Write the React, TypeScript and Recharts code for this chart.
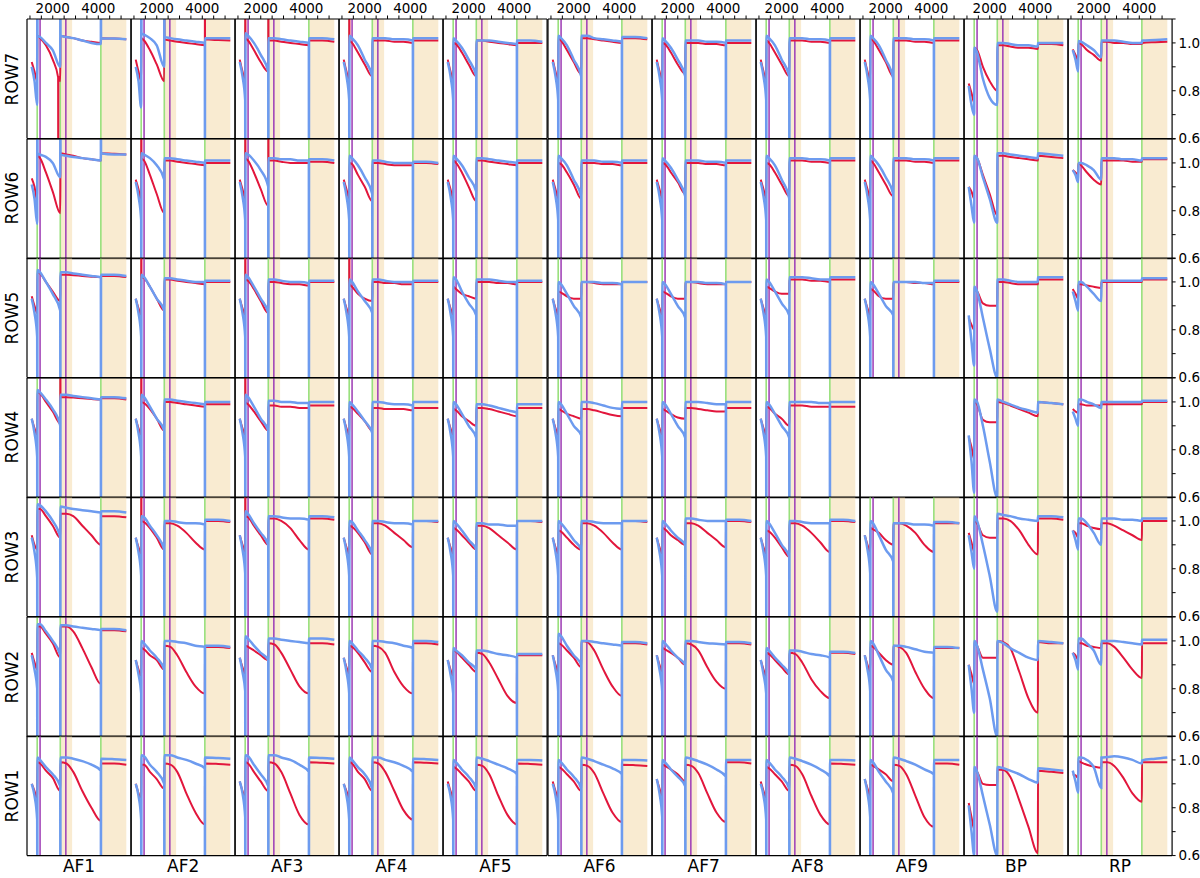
import React from 'react';
import { ComposedChart, Line, XAxis, YAxis, ReferenceArea, ReferenceLine } from 'recharts';

// ---------- categories / labels ----------
const COLUMNS = ['AF1', 'AF2', 'AF3', 'AF4', 'AF5', 'AF6', 'AF7', 'AF8', 'AF9', 'BP', 'RP'];
const ROWS = ['ROW7', 'ROW6', 'ROW5', 'ROW4', 'ROW3', 'ROW2', 'ROW1']; // top to bottom

// ---------- x positions (OBMT revolutions) of the sampled points in each segment ----------
const X_SEG_A = [1078, 1200, 1317];
const X_SEG_B = [1330, 1444, 1700, 2000, 2330];
const X_SEG_C = [2340, 2600, 2900, 3300, 3700, 4112];
const X_SEG_D = [4120, 4700, 5230];
const GAP_X = [1323, 2335, 4116];
const GAP_LOW = 0.3;
const GAP_HIGH = 1.4;

// ---------- events ----------
const DECONTAMINATIONS = [1317, 2331, 4112]; // green lines
const REFOCUSES = [1444, 2575]; // purple lines
const SHADED_FROM = [2331, 4112];
const SHADED_TO = [2850, 5230];

// ---------- axes ----------
const X_DOMAIN = [870, 5440];
const Y_DOMAIN = [0.6, 1.1];
const X_TICKS = [1000, 1500, 2000, 2500, 3000, 3500, 4000, 4500, 5000];
const X_TICK_LABELS = [2000, 4000];
const Y_TICKS = [0.6, 0.7, 0.8, 0.9, 1.0, 1.1];
const Y_TICK_LABELS = [0.6, 0.8, 1.0];

// ---------- series values: each row = A(3) | B(5) | C(6) | D(3) ----------
const ROW7_RED = [
  [0.92, 0.88, 0.84, 1.03, 1.02, 0.99, 0.93, 0.84, 1.03, 1.025, 1.02, 1.01, 1.005, 1.0, 1.02, 1.018, 1.015],
  [0.93, 0.88, 0.84, 1.02, 1.01, 0.97, 0.91, 0.84, 1.015, 1.01, 1.005, 1.0, 0.995, 0.99, 1.015, 1.012, 1.01],
  [0.93, 0.88, 0.84, 1.02, 1.01, 0.97, 0.92, 0.88, 1.01, 1.01, 1.005, 1.0, 0.995, 0.99, 1.01, 1.01, 1.005],
  [0.93, 0.88, 0.84, 1.01, 1.0, 0.96, 0.91, 0.86, 1.01, 1.01, 1.01, 1.005, 1.005, 1.0, 1.01, 1.01, 1.01],
  [0.93, 0.88, 0.84, 1.0, 0.995, 0.96, 0.91, 0.86, 1.01, 1.01, 1.005, 1.0, 0.995, 0.99, 1.0, 1.0, 1.0],
  [0.93, 0.88, 0.84, 1.02, 1.01, 0.97, 0.92, 0.87, 1.02, 1.02, 1.015, 1.01, 1.005, 1.0, 1.02, 1.02, 1.015],
  [0.93, 0.88, 0.84, 1.0, 0.995, 0.96, 0.91, 0.87, 1.0, 1.0, 1.0, 0.995, 0.995, 0.99, 1.0, 1.0, 1.0],
  [0.93, 0.88, 0.84, 1.01, 1.0, 0.96, 0.91, 0.86, 1.01, 1.01, 1.01, 1.005, 1.005, 1.0, 1.01, 1.01, 1.01],
  [0.93, 0.88, 0.84, 1.02, 1.01, 0.97, 0.92, 0.86, 1.01, 1.01, 1.01, 1.005, 1.005, 1.0, 1.01, 1.01, 1.01],
  [0.83, 0.79, 0.75, 0.98, 0.97, 0.9, 0.84, 0.8, 0.99, 0.99, 0.985, 0.98, 0.98, 0.975, 0.995, 0.995, 0.99],
  [0.973, 0.95, 0.926, 1.0, 0.995, 0.97, 0.95, 0.925, 1.005, 1.005, 1.0, 1.0, 0.995, 0.995, 1.0, 1.003, 1.005],
];
const ROW7_BLUE = [
  [0.9, 0.84, 0.74, 1.03, 1.025, 1.0, 0.97, 0.9, 1.03, 1.025, 1.02, 1.01, 1.0, 0.995, 1.02, 1.018, 1.015],
  [0.9, 0.84, 0.73, 1.04, 1.035, 1.02, 0.99, 0.9, 1.025, 1.02, 1.015, 1.01, 1.005, 1.0, 1.02, 1.02, 1.02],
  [0.92, 0.86, 0.76, 1.04, 1.03, 1.0, 0.95, 0.88, 1.02, 1.02, 1.015, 1.01, 1.005, 1.0, 1.02, 1.02, 1.015],
  [0.92, 0.86, 0.76, 1.03, 1.02, 0.99, 0.93, 0.86, 1.02, 1.02, 1.02, 1.015, 1.015, 1.01, 1.02, 1.02, 1.02],
  [0.92, 0.86, 0.76, 1.02, 1.01, 0.98, 0.93, 0.86, 1.01, 1.01, 1.01, 1.005, 1.0, 0.995, 1.01, 1.01, 1.005],
  [0.92, 0.86, 0.76, 1.03, 1.02, 0.99, 0.93, 0.86, 1.03, 1.03, 1.02, 1.015, 1.01, 1.005, 1.025, 1.025, 1.02],
  [0.92, 0.86, 0.76, 1.02, 1.01, 0.98, 0.93, 0.86, 1.01, 1.01, 1.01, 1.005, 1.005, 1.0, 1.01, 1.01, 1.01],
  [0.92, 0.86, 0.76, 1.03, 1.02, 0.99, 0.93, 0.86, 1.02, 1.02, 1.02, 1.015, 1.015, 1.01, 1.02, 1.02, 1.02],
  [0.92, 0.86, 0.76, 1.03, 1.02, 0.99, 0.93, 0.85, 1.02, 1.02, 1.02, 1.015, 1.015, 1.01, 1.02, 1.02, 1.02],
  [0.82, 0.74, 0.7, 0.98, 0.96, 0.85, 0.77, 0.74, 1.0, 1.0, 0.995, 0.99, 0.99, 0.985, 1.0, 1.0, 1.0],
  [0.97, 0.93, 0.88, 1.008, 1.005, 0.99, 0.97, 0.94, 1.01, 1.01, 1.01, 1.005, 1.0, 1.0, 1.01, 1.012, 1.015],
];
const ROW6_RED = [
  [0.935, 0.9, 0.84, 1.03, 1.02, 0.96, 0.88, 0.79, 1.04, 1.035, 1.03, 1.02, 1.015, 1.01, 1.04, 1.038, 1.035],
  [0.93, 0.89, 0.84, 1.02, 1.01, 0.95, 0.87, 0.79, 1.01, 1.01, 1.005, 1.0, 0.995, 0.99, 1.0, 1.0, 1.0],
  [0.93, 0.89, 0.85, 1.02, 1.01, 0.96, 0.89, 0.82, 1.01, 1.01, 1.005, 1.0, 1.0, 1.0, 1.005, 1.005, 1.0],
  [0.93, 0.89, 0.85, 1.0, 0.995, 0.95, 0.9, 0.84, 1.0, 1.0, 0.995, 0.99, 0.99, 0.99, 1.0, 1.0, 0.995],
  [0.93, 0.89, 0.85, 1.01, 1.0, 0.96, 0.9, 0.84, 1.01, 1.01, 1.005, 1.0, 0.995, 0.99, 1.0, 1.0, 1.0],
  [0.93, 0.89, 0.85, 1.0, 0.995, 0.96, 0.91, 0.85, 1.0, 1.0, 1.0, 0.995, 0.995, 0.99, 1.0, 1.0, 1.0],
  [0.93, 0.89, 0.85, 1.0, 0.995, 0.96, 0.92, 0.87, 1.0, 1.0, 1.0, 0.995, 0.995, 0.99, 1.0, 1.0, 1.0],
  [0.93, 0.89, 0.85, 1.0, 0.995, 0.96, 0.91, 0.86, 1.01, 1.01, 1.01, 1.005, 1.005, 1.0, 1.01, 1.01, 1.01],
  [0.93, 0.89, 0.85, 1.01, 1.0, 0.96, 0.91, 0.86, 1.01, 1.01, 1.01, 1.005, 1.005, 1.0, 1.01, 1.01, 1.01],
  [0.9, 0.88, 0.85, 1.03, 1.02, 0.95, 0.87, 0.78, 1.03, 1.03, 1.025, 1.02, 1.015, 1.01, 1.03, 1.025, 1.02],
  [0.97, 0.96, 0.95, 1.0, 0.99, 0.96, 0.93, 0.91, 1.01, 1.01, 1.01, 1.01, 1.005, 1.005, 1.015, 1.015, 1.015],
];
const ROW6_BLUE = [
  [0.91, 0.85, 0.745, 1.04, 1.035, 1.025, 1.0, 0.94, 1.035, 1.03, 1.025, 1.02, 1.015, 1.01, 1.04, 1.035, 1.035],
  [0.92, 0.86, 0.76, 1.04, 1.035, 1.02, 0.99, 0.93, 1.02, 1.02, 1.015, 1.01, 1.005, 1.0, 1.01, 1.01, 1.01],
  [0.92, 0.86, 0.76, 1.04, 1.035, 1.01, 0.97, 0.9, 1.02, 1.02, 1.015, 1.015, 1.01, 1.01, 1.015, 1.015, 1.01],
  [0.92, 0.86, 0.76, 1.03, 1.02, 0.99, 0.94, 0.87, 1.01, 1.01, 1.005, 1.0, 1.0, 1.0, 1.005, 1.005, 1.0],
  [0.92, 0.86, 0.76, 1.03, 1.02, 0.99, 0.94, 0.88, 1.02, 1.02, 1.015, 1.01, 1.005, 1.0, 1.01, 1.01, 1.01],
  [0.92, 0.86, 0.76, 1.03, 1.02, 0.99, 0.93, 0.86, 1.01, 1.01, 1.01, 1.005, 1.005, 1.0, 1.01, 1.01, 1.01],
  [0.92, 0.86, 0.76, 1.02, 1.01, 0.98, 0.93, 0.86, 1.01, 1.01, 1.01, 1.005, 1.005, 1.0, 1.01, 1.01, 1.01],
  [0.92, 0.86, 0.76, 1.03, 1.02, 0.99, 0.93, 0.85, 1.02, 1.02, 1.02, 1.015, 1.015, 1.01, 1.02, 1.02, 1.02],
  [0.92, 0.86, 0.76, 1.03, 1.02, 0.99, 0.94, 0.87, 1.02, 1.02, 1.02, 1.015, 1.015, 1.01, 1.02, 1.02, 1.02],
  [0.9, 0.82, 0.75, 1.03, 1.02, 0.94, 0.85, 0.75, 1.04, 1.04, 1.035, 1.03, 1.025, 1.02, 1.04, 1.035, 1.03],
  [0.97, 0.95, 0.92, 1.0, 1.0, 0.99, 0.97, 0.93, 1.02, 1.02, 1.02, 1.015, 1.015, 1.01, 1.02, 1.02, 1.02],
];
const ROW5_RED = [
  [0.94, 0.9, 0.87, 1.04, 1.035, 1.0, 0.96, 0.92, 1.03, 1.03, 1.028, 1.025, 1.022, 1.02, 1.025, 1.025, 1.02],
  [0.93, 0.89, 0.86, 1.02, 1.015, 0.98, 0.93, 0.88, 1.01, 1.01, 1.005, 1.0, 0.995, 0.99, 1.0, 1.0, 1.0],
  [0.93, 0.89, 0.86, 1.01, 1.005, 0.97, 0.92, 0.87, 1.0, 1.0, 0.995, 0.99, 0.99, 0.985, 1.0, 1.0, 1.0],
  [0.93, 0.89, 0.86, 0.99, 0.98, 0.95, 0.93, 0.92, 1.0, 1.0, 0.995, 0.995, 0.99, 0.99, 1.0, 1.0, 1.0],
  [0.93, 0.89, 0.86, 0.98, 0.97, 0.95, 0.94, 0.93, 1.0, 1.0, 1.0, 0.995, 0.995, 0.99, 1.0, 1.0, 1.0],
  [0.93, 0.89, 0.86, 0.96, 0.955, 0.94, 0.93, 0.93, 1.0, 1.0, 0.995, 0.99, 0.99, 0.99, 1.0, 1.0, 1.0],
  [0.93, 0.89, 0.86, 0.96, 0.955, 0.94, 0.93, 0.93, 1.0, 1.0, 0.995, 0.99, 0.99, 0.99, 1.0, 1.0, 1.0],
  [0.93, 0.89, 0.86, 0.98, 0.975, 0.96, 0.95, 0.95, 1.01, 1.01, 1.01, 1.005, 1.005, 1.0, 1.01, 1.01, 1.01],
  [0.93, 0.89, 0.86, 0.97, 0.965, 0.94, 0.93, 0.93, 1.0, 1.0, 1.0, 0.995, 0.995, 0.99, 1.0, 1.0, 1.0],
  [0.85, 0.82, 0.8, 0.97, 0.96, 0.91, 0.9, 0.9, 1.0, 1.0, 0.995, 0.99, 0.99, 0.99, 1.01, 1.01, 1.01],
  [0.97, 0.95, 0.93, 0.99, 0.99, 0.985, 0.98, 0.975, 1.0, 1.0, 1.0, 1.0, 1.0, 1.0, 1.01, 1.01, 1.01],
];
const ROW5_BLUE = [
  [0.93, 0.87, 0.77, 1.05, 1.04, 1.0, 0.95, 0.88, 1.04, 1.04, 1.035, 1.03, 1.025, 1.02, 1.03, 1.03, 1.025],
  [0.93, 0.87, 0.77, 1.03, 1.02, 0.98, 0.93, 0.88, 1.015, 1.015, 1.01, 1.005, 1.0, 1.0, 1.005, 1.005, 1.005],
  [0.93, 0.87, 0.77, 1.03, 1.02, 0.98, 0.93, 0.87, 1.01, 1.01, 1.005, 1.0, 1.0, 0.995, 1.005, 1.005, 1.005],
  [0.93, 0.87, 0.77, 1.01, 1.0, 0.96, 0.92, 0.87, 1.01, 1.01, 1.005, 1.0, 1.0, 1.0, 1.005, 1.005, 1.005],
  [0.93, 0.87, 0.77, 1.02, 1.01, 0.96, 0.91, 0.86, 1.01, 1.01, 1.01, 1.005, 1.0, 1.0, 1.005, 1.005, 1.005],
  [0.93, 0.87, 0.77, 1.0, 0.99, 0.95, 0.9, 0.85, 1.0, 1.0, 1.0, 0.995, 0.995, 0.99, 1.0, 1.0, 1.0],
  [0.93, 0.87, 0.77, 1.0, 0.99, 0.95, 0.9, 0.85, 1.0, 1.0, 1.0, 0.995, 0.995, 0.99, 1.0, 1.0, 1.0],
  [0.93, 0.87, 0.77, 1.01, 1.0, 0.96, 0.91, 0.86, 1.02, 1.02, 1.02, 1.015, 1.01, 1.01, 1.02, 1.02, 1.02],
  [0.93, 0.87, 0.77, 1.0, 0.99, 0.95, 0.9, 0.86, 1.0, 1.0, 1.0, 1.0, 0.995, 0.995, 1.005, 1.005, 1.005],
  [0.86, 0.75, 0.65, 0.98, 0.96, 0.85, 0.72, 0.6, 1.01, 1.01, 1.005, 1.0, 1.0, 1.0, 1.02, 1.02, 1.02],
  [0.96, 0.92, 0.88, 1.0, 1.0, 0.98, 0.95, 0.92, 1.005, 1.005, 1.005, 1.005, 1.005, 1.005, 1.015, 1.015, 1.015],
];
const ROW4_RED = [
  [0.93, 0.89, 0.86, 1.04, 1.035, 1.0, 0.96, 0.91, 1.02, 1.02, 1.018, 1.015, 1.012, 1.01, 1.015, 1.015, 1.01],
  [0.93, 0.89, 0.86, 1.0, 0.995, 0.97, 0.93, 0.88, 1.0, 1.0, 0.995, 0.99, 0.985, 0.98, 0.99, 0.99, 0.99],
  [0.93, 0.89, 0.86, 1.0, 0.99, 0.96, 0.92, 0.88, 0.985, 0.985, 0.98, 0.98, 0.975, 0.975, 0.985, 0.985, 0.985],
  [0.93, 0.89, 0.86, 0.98, 0.975, 0.95, 0.92, 0.88, 0.975, 0.975, 0.97, 0.97, 0.97, 0.965, 0.975, 0.975, 0.975],
  [0.93, 0.89, 0.86, 0.97, 0.965, 0.94, 0.92, 0.9, 0.975, 0.975, 0.97, 0.96, 0.95, 0.94, 0.975, 0.975, 0.975],
  [0.93, 0.89, 0.86, 0.97, 0.965, 0.95, 0.94, 0.93, 0.97, 0.97, 0.965, 0.955, 0.945, 0.94, 0.975, 0.975, 0.975],
  [0.93, 0.89, 0.86, 0.97, 0.965, 0.95, 0.935, 0.93, 0.975, 0.975, 0.97, 0.965, 0.96, 0.96, 0.975, 0.975, 0.975],
  [0.93, 0.89, 0.86, 0.98, 0.975, 0.95, 0.93, 0.9, 0.985, 0.985, 0.985, 0.98, 0.98, 0.98, 0.98, 0.98, 0.98],
  null,
  [0.855, 0.81, 0.76, 1.0, 0.99, 0.925, 0.915, 0.915, 1.0, 0.995, 0.985, 0.97, 0.955, 0.94, 1.0, 0.995, 0.99],
  [0.97, 0.96, 0.955, 0.99, 0.99, 0.985, 0.985, 0.985, 0.99, 0.99, 0.99, 0.99, 0.99, 0.99, 1.0, 1.0, 1.0],
];
const ROW4_BLUE = [
  [0.93, 0.87, 0.77, 1.05, 1.04, 1.01, 0.97, 0.9, 1.03, 1.03, 1.025, 1.02, 1.015, 1.01, 1.02, 1.02, 1.015],
  [0.93, 0.87, 0.77, 1.03, 1.02, 0.98, 0.93, 0.88, 1.01, 1.01, 1.005, 1.0, 0.995, 0.99, 1.0, 1.0, 1.0],
  [0.93, 0.87, 0.77, 1.03, 1.02, 0.98, 0.93, 0.88, 1.005, 1.005, 1.0, 1.0, 0.995, 0.995, 1.0, 1.0, 1.0],
  [0.93, 0.87, 0.77, 1.0, 0.99, 0.96, 0.92, 0.87, 1.0, 1.0, 0.995, 0.99, 0.99, 0.985, 1.0, 1.0, 1.0],
  [0.93, 0.87, 0.77, 1.0, 0.99, 0.95, 0.9, 0.85, 0.99, 0.99, 0.985, 0.975, 0.965, 0.955, 0.99, 0.99, 0.99],
  [0.93, 0.87, 0.77, 1.0, 0.99, 0.95, 0.9, 0.86, 1.0, 1.0, 0.995, 0.985, 0.975, 0.97, 1.0, 1.0, 1.0],
  [0.93, 0.87, 0.77, 1.0, 0.99, 0.95, 0.9, 0.85, 1.0, 1.0, 1.0, 0.995, 0.99, 0.99, 1.0, 1.0, 1.0],
  [0.93, 0.87, 0.77, 1.0, 0.99, 0.95, 0.9, 0.85, 1.0, 1.0, 1.0, 1.0, 0.995, 0.995, 1.0, 1.0, 1.0],
  null,
  [0.86, 0.75, 0.62, 1.01, 1.0, 0.9, 0.75, 0.6, 1.01, 1.0, 0.99, 0.975, 0.965, 0.955, 1.0, 0.995, 0.99],
  [0.96, 0.93, 0.9, 1.01, 1.01, 1.0, 0.99, 0.975, 1.0, 1.0, 1.0, 1.0, 1.0, 1.0, 1.005, 1.005, 1.005],
];
const ROW3_RED = [
  [0.94, 0.9, 0.88, 1.05, 1.05, 1.02, 0.98, 0.93, 1.03, 1.03, 1.02, 0.98, 0.94, 0.9, 1.02, 1.02, 1.015],
  [0.93, 0.89, 0.86, 1.0, 0.995, 0.97, 0.93, 0.88, 0.99, 0.99, 0.98, 0.95, 0.91, 0.88, 1.0, 1.0, 0.995],
  [0.94, 0.9, 0.87, 1.02, 1.015, 0.98, 0.94, 0.9, 1.01, 1.01, 1.0, 0.97, 0.92, 0.88, 1.01, 1.01, 1.005],
  [0.93, 0.89, 0.86, 0.98, 0.975, 0.95, 0.91, 0.86, 0.99, 0.99, 0.98, 0.95, 0.92, 0.89, 1.0, 1.0, 0.995],
  [0.93, 0.89, 0.86, 0.97, 0.965, 0.94, 0.91, 0.88, 0.98, 0.98, 0.97, 0.94, 0.91, 0.88, 1.0, 1.0, 0.995],
  [0.93, 0.89, 0.86, 0.96, 0.955, 0.93, 0.9, 0.88, 0.99, 0.99, 0.98, 0.95, 0.91, 0.88, 1.0, 1.0, 0.995],
  [0.93, 0.89, 0.86, 0.97, 0.965, 0.94, 0.92, 0.9, 0.99, 0.99, 0.98, 0.95, 0.92, 0.89, 1.0, 1.0, 0.995],
  [0.93, 0.89, 0.86, 0.96, 0.955, 0.93, 0.89, 0.85, 0.99, 0.99, 0.98, 0.95, 0.91, 0.87, 1.0, 1.0, 0.995],
  [0.94, 0.9, 0.87, 0.97, 0.965, 0.95, 0.92, 0.9, 0.99, 0.99, 0.98, 0.95, 0.9, 0.87, 0.99, 0.99, 0.99],
  [0.95, 0.91, 0.87, 1.0, 0.99, 0.94, 0.93, 0.93, 1.01, 1.01, 1.0, 0.96, 0.9, 0.86, 1.01, 1.01, 1.005],
  [0.96, 0.95, 0.93, 0.99, 0.99, 0.98, 0.97, 0.965, 0.99, 0.99, 0.98, 0.96, 0.94, 0.92, 1.0, 1.0, 1.0],
];
const ROW3_BLUE = [
  [0.93, 0.87, 0.76, 1.07, 1.065, 1.04, 1.0, 0.93, 1.06, 1.055, 1.05, 1.045, 1.04, 1.035, 1.04, 1.04, 1.035],
  [0.93, 0.87, 0.77, 1.02, 1.015, 0.98, 0.94, 0.88, 1.0, 1.0, 0.995, 0.99, 0.99, 0.985, 1.005, 1.005, 1.0],
  [0.94, 0.88, 0.78, 1.04, 1.03, 0.99, 0.95, 0.9, 1.02, 1.02, 1.015, 1.01, 1.01, 1.005, 1.02, 1.02, 1.015],
  [0.93, 0.87, 0.77, 1.0, 0.995, 0.96, 0.92, 0.86, 1.0, 1.0, 0.995, 0.99, 0.99, 0.985, 1.0, 1.0, 1.0],
  [0.93, 0.87, 0.77, 1.0, 0.99, 0.96, 0.92, 0.88, 0.99, 0.99, 0.985, 0.985, 0.98, 0.98, 1.0, 1.0, 1.0],
  [0.93, 0.87, 0.77, 1.0, 0.99, 0.96, 0.92, 0.88, 1.0, 1.0, 0.995, 0.99, 0.99, 0.99, 1.0, 1.0, 1.0],
  [0.93, 0.87, 0.77, 1.0, 0.99, 0.96, 0.93, 0.9, 1.01, 1.01, 1.005, 1.0, 1.0, 1.0, 1.005, 1.005, 1.0],
  [0.93, 0.87, 0.77, 1.0, 0.99, 0.95, 0.9, 0.85, 1.0, 1.0, 0.995, 0.99, 0.99, 0.99, 1.005, 1.005, 1.0],
  [0.94, 0.88, 0.78, 1.0, 0.99, 0.94, 0.88, 0.83, 0.99, 0.99, 0.99, 0.985, 0.985, 0.98, 0.995, 0.995, 0.99],
  [0.94, 0.87, 0.8, 1.02, 1.0, 0.9, 0.77, 0.62, 1.03, 1.025, 1.02, 1.01, 1.005, 1.0, 1.02, 1.02, 1.015],
  [0.96, 0.92, 0.88, 1.01, 1.01, 0.99, 0.95, 0.9, 1.01, 1.01, 1.01, 1.005, 1.005, 1.0, 1.01, 1.01, 1.01],
];
const ROW2_RED = [
  [0.95, 0.91, 0.88, 1.06, 1.06, 1.03, 0.99, 0.93, 1.06, 1.06, 1.04, 0.97, 0.89, 0.82, 1.045, 1.045, 1.04],
  [0.92, 0.88, 0.85, 0.97, 0.965, 0.94, 0.92, 0.88, 0.98, 0.975, 0.94, 0.87, 0.81, 0.78, 0.975, 0.975, 0.97],
  [0.93, 0.89, 0.86, 0.98, 0.975, 0.96, 0.94, 0.92, 0.99, 0.985, 0.95, 0.88, 0.81, 0.78, 0.99, 0.99, 0.985],
  [0.93, 0.89, 0.86, 0.98, 0.975, 0.95, 0.91, 0.87, 0.98, 0.975, 0.95, 0.87, 0.81, 0.78, 0.99, 0.99, 0.985],
  [0.92, 0.88, 0.85, 0.96, 0.955, 0.93, 0.9, 0.87, 0.95, 0.945, 0.91, 0.84, 0.77, 0.74, 0.94, 0.94, 0.94],
  [0.94, 0.9, 0.87, 0.99, 0.985, 0.96, 0.93, 0.89, 1.0, 0.995, 0.96, 0.88, 0.81, 0.77, 0.99, 0.99, 0.985],
  [0.94, 0.9, 0.87, 0.97, 0.965, 0.95, 0.93, 0.9, 0.99, 0.985, 0.96, 0.89, 0.83, 0.8, 0.99, 0.99, 0.985],
  [0.92, 0.88, 0.85, 0.95, 0.945, 0.92, 0.89, 0.86, 0.95, 0.945, 0.91, 0.84, 0.79, 0.76, 0.95, 0.95, 0.945],
  [0.94, 0.9, 0.87, 0.98, 0.975, 0.95, 0.92, 0.9, 0.98, 0.975, 0.95, 0.87, 0.8, 0.76, 0.97, 0.97, 0.97],
  [0.9, 0.86, 0.82, 1.0, 0.98, 0.93, 0.93, 0.93, 1.0, 0.995, 0.97, 0.87, 0.76, 0.7, 0.995, 0.99, 0.99],
  [0.95, 0.94, 0.92, 0.99, 0.99, 0.98, 0.975, 0.97, 0.99, 0.99, 0.975, 0.93, 0.88, 0.845, 0.99, 0.99, 0.99],
];
const ROW2_BLUE = [
  [0.94, 0.88, 0.8, 1.07, 1.07, 1.04, 1.0, 0.94, 1.065, 1.065, 1.06, 1.055, 1.05, 1.045, 1.05, 1.05, 1.045],
  [0.92, 0.86, 0.78, 1.0, 0.99, 0.96, 0.93, 0.88, 1.0, 1.0, 0.995, 0.99, 0.98, 0.975, 0.98, 0.98, 0.975],
  [0.93, 0.87, 0.79, 1.02, 1.01, 0.98, 0.95, 0.92, 1.01, 1.01, 1.005, 1.0, 0.995, 0.99, 1.01, 1.01, 1.005],
  [0.93, 0.87, 0.78, 1.0, 0.99, 0.96, 0.93, 0.88, 1.0, 1.0, 0.995, 0.99, 0.98, 0.97, 1.0, 1.0, 0.995],
  [0.92, 0.86, 0.78, 0.97, 0.96, 0.94, 0.91, 0.88, 0.96, 0.96, 0.955, 0.945, 0.94, 0.93, 0.945, 0.945, 0.945],
  [0.94, 0.88, 0.79, 1.03, 1.02, 0.98, 0.94, 0.9, 1.0, 1.0, 0.995, 0.99, 0.985, 0.98, 0.995, 0.995, 0.99],
  [0.94, 0.88, 0.79, 1.0, 0.99, 0.96, 0.93, 0.9, 1.0, 1.0, 0.995, 0.99, 0.988, 0.985, 0.995, 0.995, 0.99],
  [0.92, 0.86, 0.78, 0.97, 0.96, 0.93, 0.9, 0.86, 0.96, 0.96, 0.955, 0.945, 0.94, 0.93, 0.955, 0.955, 0.95],
  [0.94, 0.88, 0.79, 1.0, 0.99, 0.94, 0.88, 0.83, 0.98, 0.98, 0.975, 0.965, 0.955, 0.95, 0.975, 0.975, 0.97],
  [0.9, 0.8, 0.7, 1.0, 0.98, 0.88, 0.76, 0.6, 1.0, 0.99, 0.97, 0.95, 0.93, 0.92, 1.0, 0.995, 0.99],
  [0.95, 0.92, 0.88, 1.01, 1.01, 0.99, 0.96, 0.9, 1.0, 1.0, 1.0, 0.995, 0.99, 0.985, 1.005, 1.005, 1.005],
];
const ROW1_RED = [
  [0.9, 0.87, 0.83, 0.99, 0.985, 0.955, 0.925, 0.87, 0.99, 0.985, 0.95, 0.87, 0.8, 0.745, 0.985, 0.985, 0.98],
  [0.9, 0.86, 0.83, 0.98, 0.98, 0.95, 0.92, 0.88, 0.985, 0.98, 0.95, 0.86, 0.78, 0.73, 0.985, 0.983, 0.98],
  [0.91, 0.87, 0.84, 0.99, 0.985, 0.95, 0.91, 0.87, 0.99, 0.985, 0.95, 0.86, 0.77, 0.73, 0.99, 0.988, 0.985],
  [0.9, 0.87, 0.84, 0.99, 0.985, 0.95, 0.92, 0.87, 0.99, 0.985, 0.95, 0.87, 0.79, 0.75, 0.99, 0.988, 0.985],
  [0.91, 0.87, 0.84, 0.97, 0.965, 0.94, 0.91, 0.87, 0.98, 0.975, 0.94, 0.85, 0.77, 0.73, 0.985, 0.983, 0.98],
  [0.91, 0.87, 0.84, 0.97, 0.965, 0.94, 0.91, 0.87, 0.98, 0.975, 0.945, 0.86, 0.78, 0.74, 0.98, 0.978, 0.975],
  [0.92, 0.88, 0.85, 0.98, 0.975, 0.96, 0.94, 0.91, 0.98, 0.975, 0.945, 0.86, 0.78, 0.74, 0.99, 0.99, 0.985],
  [0.91, 0.87, 0.84, 0.97, 0.965, 0.94, 0.91, 0.87, 0.98, 0.975, 0.94, 0.85, 0.77, 0.73, 0.985, 0.983, 0.98],
  [0.92, 0.88, 0.85, 0.98, 0.975, 0.96, 0.94, 0.91, 0.98, 0.975, 0.94, 0.85, 0.76, 0.72, 0.985, 0.985, 0.98],
  [0.82, 0.76, 0.71, 0.96, 0.95, 0.9, 0.895, 0.895, 0.96, 0.958, 0.93, 0.83, 0.72, 0.61, 0.955, 0.95, 0.945],
  [0.94, 0.935, 0.925, 0.995, 0.99, 0.98, 0.972, 0.967, 0.99, 0.99, 0.975, 0.925, 0.86, 0.825, 0.99, 0.99, 0.99],
];
const ROW1_BLUE = [
  [0.9, 0.85, 0.75, 1.01, 1.0, 0.97, 0.94, 0.89, 1.01, 1.01, 1.005, 0.995, 0.98, 0.955, 1.005, 1.003, 1.0],
  [0.9, 0.85, 0.75, 1.02, 1.015, 0.98, 0.95, 0.9, 1.02, 1.02, 1.01, 1.0, 0.985, 0.965, 1.01, 1.008, 1.005],
  [0.91, 0.86, 0.76, 1.02, 1.015, 0.98, 0.94, 0.89, 1.02, 1.02, 1.01, 1.0, 0.98, 0.95, 1.01, 1.008, 1.005],
  [0.9, 0.85, 0.75, 1.01, 1.0, 0.97, 0.94, 0.88, 1.01, 1.01, 1.0, 0.99, 0.975, 0.95, 1.005, 1.003, 1.0],
  [0.9, 0.85, 0.75, 1.0, 0.99, 0.96, 0.93, 0.88, 1.01, 1.005, 0.995, 0.98, 0.965, 0.94, 1.0, 1.0, 0.998],
  [0.9, 0.85, 0.75, 1.0, 0.99, 0.96, 0.93, 0.88, 1.01, 1.005, 0.995, 0.98, 0.965, 0.94, 1.0, 1.0, 0.998],
  [0.92, 0.86, 0.76, 1.0, 0.99, 0.96, 0.93, 0.89, 1.01, 1.005, 0.995, 0.98, 0.96, 0.93, 1.0, 1.0, 1.0],
  [0.9, 0.85, 0.75, 1.0, 0.99, 0.96, 0.93, 0.88, 1.01, 1.005, 0.995, 0.98, 0.96, 0.93, 1.0, 1.0, 0.998],
  [0.92, 0.86, 0.76, 1.0, 0.99, 0.95, 0.91, 0.86, 1.01, 1.005, 0.995, 0.98, 0.96, 0.94, 1.0, 1.0, 1.0],
  [0.81, 0.7, 0.6, 0.97, 0.95, 0.85, 0.73, 0.6, 0.97, 0.965, 0.955, 0.94, 0.92, 0.905, 0.965, 0.96, 0.955],
  [0.955, 0.91, 0.863, 1.01, 1.01, 1.0, 0.97, 0.883, 1.01, 1.012, 1.015, 1.01, 1.0, 0.985, 0.998, 1.005, 1.01],
];

// gap behaviour at the three decontaminations: d = drop below frame, u = spike above frame, n = none
const ROW7_RED_GAPS = ['nnn', 'nuu', 'uun', 'unn', 'nnn', 'nnn', 'nnn', 'nnn', 'nnn', 'nnn', 'nnn'];
const ROW7_BLUE_GAPS = ['uuu', 'uud', 'ddd', 'ddd', 'ddd', 'ddd', 'ddd', 'ddd', 'ddd', 'nnn', 'nnn'];
const ROW6_RED_GAPS = ['nnn', 'unn', 'uun', 'nnn', 'nnn', 'nnn', 'nnn', 'nnn', 'nnn', 'nnn', 'nnn'];
const ROW6_BLUE_GAPS = ['uuu', 'ddd', 'ddd', 'ddd', 'ddd', 'ddd', 'ddd', 'ddd', 'ddd', 'nnn', 'nnn'];
const ROW5_RED_GAPS = ['nnn', 'unn', 'unn', 'unn', 'nnn', 'nnn', 'nnn', 'nnn', 'nnn', 'nnn', 'nnn'];
const ROW5_BLUE_GAPS = ['ddd', 'ddd', 'ddd', 'ddd', 'ddd', 'ddd', 'ddd', 'ddd', 'ddd', 'nnn', 'nnn'];
const ROW4_RED_GAPS = ['nun', 'unn', 'unn', 'nnn', 'nnn', 'nnn', 'nnn', 'nnn', 'nnn', 'nnn', 'nnn'];
const ROW4_BLUE_GAPS = ['ddd', 'ddd', 'ddd', 'ddd', 'ddd', 'ddd', 'ddd', 'ddd', 'nnn', 'nnn', 'nnn'];
const ROW3_RED_GAPS = ['nnn', 'unn', 'unn', 'nnn', 'nnn', 'nnn', 'nnn', 'nnn', 'nnn', 'nnn', 'nnn'];
const ROW3_BLUE_GAPS = ['ddd', 'ddd', 'ddd', 'ddd', 'ddd', 'ddd', 'ddd', 'ddd', 'ddd', 'nnn', 'nnn'];
const ROW2_RED_GAPS = ['nnn', 'nnn', 'nnn', 'nnn', 'nnn', 'nnn', 'nnn', 'nnn', 'nnn', 'nnn', 'nnn'];
const ROW2_BLUE_GAPS = ['ddd', 'ddd', 'ddd', 'ddd', 'ddd', 'ddd', 'ddd', 'ddd', 'ddd', 'nnn', 'nnn'];
const ROW1_RED_GAPS = ['nnn', 'nnn', 'nnn', 'nnn', 'nnn', 'nnn', 'nnn', 'nnn', 'nnn', 'nnn', 'nnn'];
const ROW1_BLUE_GAPS = ['ddd', 'ddd', 'ddd', 'ddd', 'ddd', 'ddd', 'ddd', 'ddd', 'ddd', 'nnn', 'nnn'];

// isolated glitches (x, value)
const ROW7_AF1_RED_GLITCH = [[2236, 0.856], [2242, 0.3], [2250, 0.86]];

const RED_TABLE = [ROW7_RED, ROW6_RED, ROW5_RED, ROW4_RED, ROW3_RED, ROW2_RED, ROW1_RED];
const BLUE_TABLE = [ROW7_BLUE, ROW6_BLUE, ROW5_BLUE, ROW4_BLUE, ROW3_BLUE, ROW2_BLUE, ROW1_BLUE];
const RED_GAP_TABLE = [ROW7_RED_GAPS, ROW6_RED_GAPS, ROW5_RED_GAPS, ROW4_RED_GAPS, ROW3_RED_GAPS, ROW2_RED_GAPS, ROW1_RED_GAPS];
const BLUE_GAP_TABLE = [ROW7_BLUE_GAPS, ROW6_BLUE_GAPS, ROW5_BLUE_GAPS, ROW4_BLUE_GAPS, ROW3_BLUE_GAPS, ROW2_BLUE_GAPS, ROW1_BLUE_GAPS];

// ---------- layout ----------
const PANEL_LEFT = 27;
const PANEL_TOP = 19;
const PANEL_W = 104.1;
const PANEL_H = 119.57;
const PAD = 30;
const AX = 6; // space reserved by each axis
const FONT = '"DejaVu Sans", sans-serif';

const RED = '#e2163c';
const BLUE = '#6d9bef';
const GREEN = '#98e07c';
const PURPLE = '#a245b8';
const TAN = '#f5deb3';

type Pt = { x: number; y: number };

function buildPoints(vals: number[] | null, gaps: string, extra: number[][]): Pt[] {
  if (!vals) return [];
  const segs = [X_SEG_A, X_SEG_B, X_SEG_C, X_SEG_D];
  const pts: Pt[] = [];
  let k = 0;
  segs.forEach((xs, si) => {
    xs.forEach((x) => {
      pts.push({ x, y: vals[k] });
      k += 1;
    });
    if (si < 3) {
      const g = gaps[si];
      if (g === 'd') pts.push({ x: GAP_X[si], y: GAP_LOW });
      if (g === 'u') pts.push({ x: GAP_X[si], y: GAP_HIGH });
    }
  });
  extra.forEach(([x, y]) => pts.push({ x, y }));
  pts.sort((a, b) => a.x - b.x);
  return pts;
}

function Panel({ r, c }: { r: number; c: number }) {
  const redVals = RED_TABLE[r][c];
  const blueVals = BLUE_TABLE[r][c];
  const hasData = !!redVals;
  const extra = r === 0 && c === 0 ? ROW7_AF1_RED_GLITCH : [];
  const red = buildPoints(redVals, RED_GAP_TABLE[r][c], extra);
  const blue = buildPoints(blueVals, BLUE_GAP_TABLE[r][c], []);
  const isTop = r === 0;
  const isLast = c === COLUMNS.length - 1;
  const left = PANEL_LEFT + PANEL_W * c - PAD;
  const top = PANEL_TOP + PANEL_H * r - PAD;
  const axisLine = { stroke: '#000', strokeWidth: 1.2 };
  const tickLine = { stroke: '#000', strokeWidth: 1 };
  const m = PAD - AX;
  return (
    <div style={{ position: 'absolute', left, top }}>
      <ComposedChart
        width={PANEL_W + 2 * PAD}
        height={PANEL_H + 2 * PAD}
        margin={{ top: m, right: m, bottom: m, left: m }}
      >
        <XAxis
          xAxisId="x"
          type="number"
          dataKey="x"
          domain={X_DOMAIN}
          allowDataOverflow
          ticks={X_TICKS}
          interval={0}
          tick={false}
          tickSize={3.5}
          height={AX}
          axisLine={axisLine}
          tickLine={tickLine}
        />
        <XAxis
          xAxisId="xt"
          orientation="top"
          type="number"
          dataKey="x"
          domain={X_DOMAIN}
          allowDataOverflow
          ticks={X_TICKS}
          interval={0}
          tick={isTop ? { fontSize: 13.5, fill: '#000', fontFamily: FONT } : false}
          tickFormatter={(v: number) => (X_TICK_LABELS.includes(v) ? String(v) : '')}
          tickSize={3.5}
          tickMargin={2}
          height={AX}
          axisLine={axisLine}
          tickLine={tickLine}
        />
        <YAxis
          yAxisId="y"
          type="number"
          domain={Y_DOMAIN}
          allowDataOverflow
          ticks={Y_TICKS}
          interval={0}
          tick={false}
          tickSize={3.5}
          width={AX}
          axisLine={axisLine}
          tickLine={tickLine}
        />
        <YAxis
          yAxisId="yr"
          orientation="right"
          type="number"
          domain={Y_DOMAIN}
          allowDataOverflow
          ticks={Y_TICKS}
          interval={0}
          tick={isLast ? { fontSize: 13.5, fill: '#000', fontFamily: FONT } : false}
          tickFormatter={(v: number) => (Y_TICK_LABELS.some((t) => Math.abs(t - v) < 1e-6) ? v.toFixed(1) : '')}
          tickSize={3.5}
          tickMargin={3}
          width={AX}
          axisLine={axisLine}
          tickLine={tickLine}
        />
        {hasData &&
          SHADED_FROM.map((x1, i) => (
            <ReferenceArea
              key={`s${i}`}
              xAxisId="x"
              yAxisId="y"
              x1={x1}
              x2={SHADED_TO[i]}
              fill={TAN}
              fillOpacity={0.6}
              stroke="none"
            />
          ))}
        {hasData &&
          DECONTAMINATIONS.map((x, i) => (
            <ReferenceLine key={`g${i}`} xAxisId="x" yAxisId="y" x={x} stroke={GREEN} strokeWidth={1.6} />
          ))}
        {hasData &&
          REFOCUSES.map((x, i) => (
            <ReferenceLine key={`p${i}`} xAxisId="x" yAxisId="y" x={x} stroke={PURPLE} strokeWidth={1.6} />
          ))}
        {hasData && (
          <Line
            xAxisId="x"
            yAxisId="y"
            data={red}
            dataKey="y"
            type="monotone"
            stroke={RED}
            strokeWidth={2}
            dot={false}
            activeDot={false}
            isAnimationActive={false}
          />
        )}
        {hasData && (
          <Line
            xAxisId="x"
            yAxisId="y"
            data={blue}
            dataKey="y"
            type="monotone"
            stroke={BLUE}
            strokeWidth={2.5}
            dot={false}
            activeDot={false}
            isAnimationActive={false}
          />
        )}
      </ComposedChart>
    </div>
  );
}

export default function App() {
  return (
    <div style={{ position: 'absolute', left: 0, top: 0, width: 1200, height: 878, background: '#fff', fontFamily: FONT }}>
      {ROWS.map((row, r) =>
        COLUMNS.map((col, c) => <Panel key={`${row}-${col}`} r={r} c={c} />)
      )}
      {ROWS.map((row, r) => (
        <div
          key={row}
          style={{
            position: 'absolute',
            left: 12 - 40,
            top: PANEL_TOP + PANEL_H * r + PANEL_H / 2 - 10,
            width: 80,
            height: 20,
            lineHeight: '20px',
            textAlign: 'center',
            fontSize: 17,
            transform: 'rotate(-90deg)',
            color: '#000',
          }}
        >
          {row}
        </div>
      ))}
      {COLUMNS.map((col, c) => (
        <div
          key={col}
          style={{
            position: 'absolute',
            left: PANEL_LEFT + PANEL_W * c,
            top: 856,
            width: PANEL_W,
            height: 20,
            lineHeight: '20px',
            textAlign: 'center',
            fontSize: 17,
            color: '#000',
          }}
        >
          {col}
        </div>
      ))}
    </div>
  );
}
